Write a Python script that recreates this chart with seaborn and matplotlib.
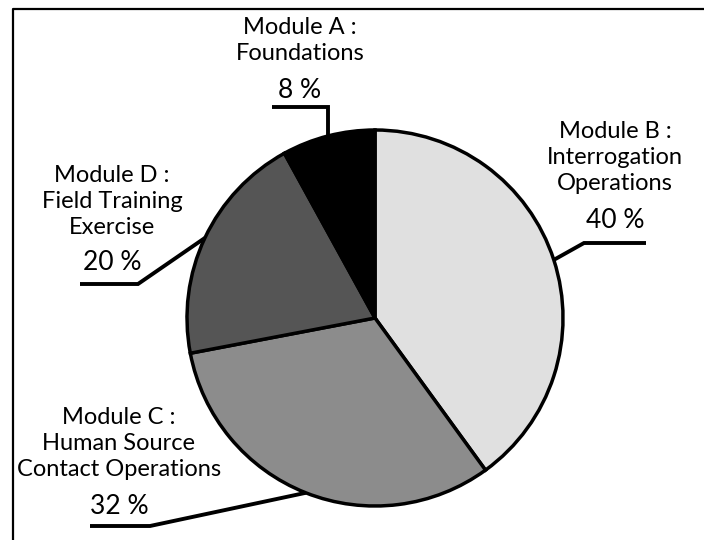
import matplotlib
matplotlib.use("Agg")
import numpy as np
import matplotlib.pyplot as plt
import seaborn as sns

# data: slices clockwise from 12 o'clock
modules = ["Module B :\nInterrogation\nOperations",
           "Module C :\nHuman Source\nContact Operations",
           "Module D :\nField Training\nExercise",
           "Module A :\nFoundations"]
shares = [40, 32, 20, 8]
pct_labels = ["40 %", "32 %", "20 %", "8 %"]
slice_colors = ["#e0e0e0", "#8c8c8c", "#555555", "#000000"]

sns.set_theme(style="white")
plt.rcParams['font.family'] = ['Lato', 'DejaVu Sans']

W, H = 704, 540
fig = plt.figure(figsize=(W / 100, H / 100), dpi=100)
ax = fig.add_axes([0, 0, 1, 1])


def Y(y):
    # image pixel row -> axes y (upwards)
    return H - y


cx, cy, r = 375, 318, 188
wedges, _ = ax.pie(shares, colors=slice_colors, startangle=90, counterclock=False,
                   center=(cx, Y(cy)), radius=r,
                   wedgeprops=dict(edgecolor="black", linewidth=2.5))

# label layout (image coords): text centre x, first line y, pct y, elbow point, line end x
layout = [
    dict(tx=615, ty=131, py=221, elbow=(584, 243), end=646),
    dict(tx=119, ty=418, py=506, elbow=(150, 526), end=90),
    dict(tx=112, ty=176, py=263, elbow=(138, 284), end=80),
    dict(tx=300, ty=28, py=90, elbow=(325, 107), end=272),
]

for w, name, pct, lay in zip(wedges, modules, pct_labels, layout):
    mid = np.deg2rad((w.theta1 + w.theta2) / 2)
    sx = cx + r * np.cos(mid)
    sy = Y(cy) + r * np.sin(mid)
    ex, ey = lay["elbow"]
    if name.startswith("Module A"):
        # vertical drop from the label to the rim
        ax.plot([sx, sx, lay["end"]], [sy, Y(ey), Y(ey)], color="black", lw=2.8,
                solid_joinstyle="miter", solid_capstyle="butt", clip_on=False)
    else:
        ax.plot([sx, ex, lay["end"]], [sy, Y(ey), Y(ey)], color="black", lw=2.8,
                solid_joinstyle="miter", solid_capstyle="butt", clip_on=False)
    for i, line in enumerate(name.split("\n")):
        ax.text(lay["tx"], Y(lay["ty"] + i * 26), line, ha="center", va="center",
                fontsize=17, color="black")
    ax.text(lay["tx"], Y(lay["py"]), pct, ha="center", va="center",
            fontsize=19, color="black")

# frame around the chart (open at the bottom)
ax.plot([12.5, 12.5, W], [0, Y(8.5), Y(8.5)], color="black", lw=1.6, clip_on=False)

ax.set_xlim(0, W)
ax.set_ylim(0, H)
ax.set_aspect("equal")
ax.axis("off")

fig.savefig("out.png", dpi=100, facecolor="white")
